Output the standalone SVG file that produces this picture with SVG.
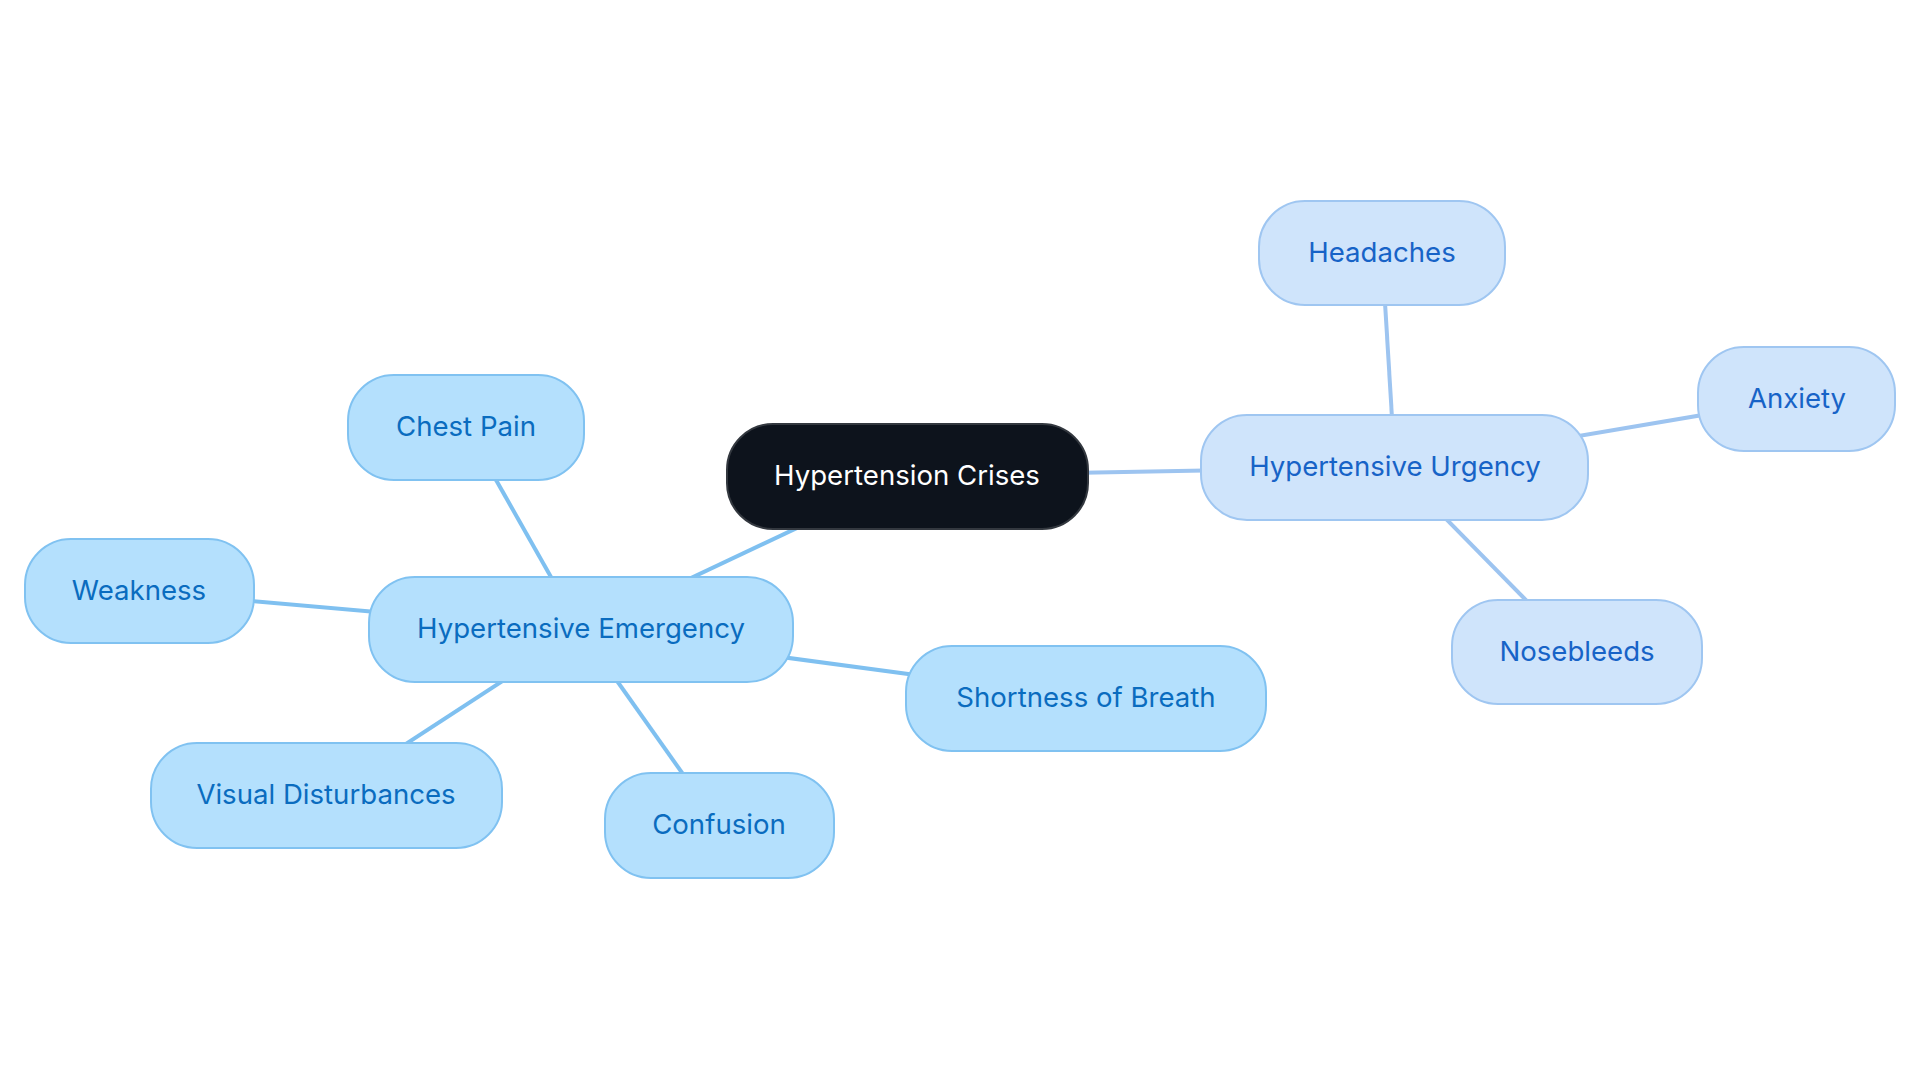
<svg xmlns="http://www.w3.org/2000/svg" width="1920" height="1083" viewBox="0 0 1920 1083">
<style>
text{font-family:"Inter","Noto Sans","Liberation Sans",sans-serif;font-size:27.6px;text-anchor:middle;dominant-baseline:central}
.root rect{fill:#0d131c;stroke:#33383f;stroke-width:2}
.root text{fill:#ffffff}
.em rect{fill:#b4e0fd;stroke:#80c2f1;stroke-width:2}
.em text{fill:#0a6cbf}
.ur rect{fill:#cfe4fb;stroke:#9fc6f1;stroke-width:2}
.ur text{fill:#1763c7}
.e1{stroke:#7fc0f0;stroke-width:4}
.e2{stroke:#9dc4f0;stroke-width:4}
</style>
<rect width="1920" height="1083" fill="#ffffff"/>
<g id="connectors">
<line class="e1" x1="907" y1="476" x2="581" y2="630"/>
<line class="e1" x1="581" y1="630" x2="466" y2="427"/>
<line class="e1" x1="581" y1="630" x2="139" y2="591"/>
<line class="e1" x1="581" y1="630" x2="326" y2="796"/>
<line class="e1" x1="581" y1="630" x2="719" y2="825"/>
<line class="e1" x1="581" y1="630" x2="1086" y2="698"/>
<line class="e2" x1="907" y1="476" x2="1395" y2="467"/>
<line class="e2" x1="1395" y1="467" x2="1382" y2="253"/>
<line class="e2" x1="1395" y1="467" x2="1797" y2="399"/>
<line class="e2" x1="1395" y1="467" x2="1577" y2="652"/>
</g>
<g id="root" class="root"><rect x="727" y="424" width="361" height="105" rx="46"/><text x="907" y="474.5">Hypertension Crises</text></g>
<g id="emergency" class="em"><rect x="369" y="577" width="424" height="105" rx="46"/><text x="581" y="627.5">Hypertensive Emergency</text></g>
<g id="chest-pain" class="em"><rect x="348" y="375" width="236" height="105" rx="46"/><text x="466" y="425.5">Chest Pain</text></g>
<g id="weakness" class="em"><rect x="25" y="539" width="229" height="104" rx="46"/><text x="139" y="589.5">Weakness</text></g>
<g id="visual" class="em"><rect x="151" y="743" width="351" height="105" rx="46"/><text x="326" y="794">Visual Disturbances</text></g>
<g id="confusion" class="em"><rect x="605" y="773" width="229" height="105" rx="46"/><text x="719" y="824">Confusion</text></g>
<g id="breath" class="em"><rect x="906" y="646" width="360" height="105" rx="46"/><text x="1086" y="697">Shortness of Breath</text></g>
<g id="urgency" class="ur"><rect x="1201" y="415" width="387" height="105" rx="46"/><text x="1395" y="465.5">Hypertensive Urgency</text></g>
<g id="headaches" class="ur"><rect x="1259" y="201" width="246" height="104" rx="46"/><text x="1382" y="251.5">Headaches</text></g>
<g id="anxiety" class="ur"><rect x="1698" y="347" width="197" height="104" rx="46"/><text x="1797" y="397.5">Anxiety</text></g>
<g id="nosebleeds" class="ur"><rect x="1452" y="600" width="250" height="104" rx="46"/><text x="1577" y="650.5">Nosebleeds</text></g>
</svg>
